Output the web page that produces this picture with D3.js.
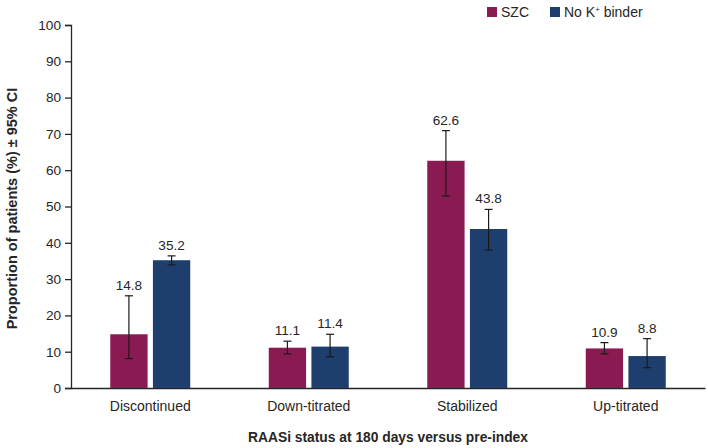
<!DOCTYPE html>
<html>
<head>
<meta charset="utf-8">
<script src="https://cdn.jsdelivr.net/npm/d3@7"></script>
<style>
  html, body { margin: 0; padding: 0; background: #fff; }
  text { font-family: "Liberation Sans", Arial, sans-serif; fill: #262626; }
</style>
</head>
<body>
<svg id="chart" width="708" height="448"></svg>
<script>
const categories = ["Discontinued", "Down-titrated", "Stabilized", "Up-titrated"];
const seriesNames = ["SZC", "No K\u207A binder"];
const szcValues = [14.8, 11.1, 62.6, 10.9];
const szcLower = [8.1, 9.4, 52.9, 9.4];
const szcUpper = [25.4, 12.9, 70.9, 12.5];
const noBinderValues = [35.2, 11.4, 43.8, 8.8];
const noBinderLower = [33.9, 8.6, 38.0, 5.6];
const noBinderUpper = [36.4, 14.8, 49.2, 13.6];
const yTicks = [0, 10, 20, 30, 40, 50, 60, 70, 80, 90, 100];
const colors = ["#8A1B52", "#1E3F6D"];

(function () {
const svg = d3.select("#chart");
const mLeft = 71, mRight = 705, mTop = 25, mBottom = 388;
const fs = "13.6px";

const x = d3.scaleBand().domain(categories).range([mLeft, mRight]).padding(0);
const y = d3.scaleLinear().domain([0, 100]).range([mBottom, mTop]);
const xs = d3.scaleBand().domain([0, 1]).range([-40, 40]).paddingInner(0.125);

// y axis
const yAxis = svg.append("g").attr("transform", `translate(${mLeft},0)`)
  .call(d3.axisLeft(y).tickValues(yTicks).tickSize(6).tickPadding(4));
yAxis.select(".domain").attr("stroke", "#262626").attr("stroke-width", 1.3);
yAxis.selectAll(".tick line").attr("stroke", "#262626").attr("stroke-width", 1.3);
yAxis.selectAll(".tick text").style("font-size", fs).style("fill", "#262626")
  .style("font-family", "Liberation Sans, Arial, sans-serif");

// x axis
const xAxis = svg.append("g").attr("transform", `translate(0,${mBottom})`)
  .call(d3.axisBottom(x).tickSize(0).tickPadding(13));
xAxis.select(".domain").attr("stroke", "#262626").attr("stroke-width", 1.3);
xAxis.selectAll(".tick text").style("font-size", "14px").style("fill", "#262626")
  .style("font-family", "Liberation Sans, Arial, sans-serif");

const series = [
  { v: szcValues, lo: szcLower, hi: szcUpper },
  { v: noBinderValues, lo: noBinderLower, hi: noBinderUpper }
];

series.forEach((s, si) => {
  const g = svg.append("g");
  categories.forEach((c, ci) => {
    const cx = x(c) + x.bandwidth() / 2;
    const bx = cx + xs(si);
    const bw = xs.bandwidth();
    g.append("rect").attr("x", bx).attr("y", y(s.v[ci]))
      .attr("width", bw).attr("height", y(0) - y(s.v[ci]))
      .attr("fill", colors[si]);
    const mx = bx + bw / 2;
    const eg = g.append("g").attr("stroke", "#1a1a1a").attr("stroke-width", 1.2);
    eg.append("line").attr("x1", mx).attr("x2", mx).attr("y1", y(s.lo[ci])).attr("y2", y(s.hi[ci]));
    eg.append("line").attr("x1", mx - 4).attr("x2", mx + 4).attr("y1", y(s.lo[ci])).attr("y2", y(s.lo[ci]));
    eg.append("line").attr("x1", mx - 4).attr("x2", mx + 4).attr("y1", y(s.hi[ci])).attr("y2", y(s.hi[ci]));
    g.append("text").attr("x", mx).attr("y", y(s.hi[ci]) - 6)
      .attr("text-anchor", "middle").style("font-size", fs)
      .text(s.v[ci].toFixed(1));
  });
});

// axis titles
svg.append("text")
  .attr("transform", `translate(17,${(mTop + mBottom) / 2 + 2}) rotate(-90)`)
  .attr("text-anchor", "middle").style("font-size", "14.5px").style("font-weight", "bold")
  .text("Proportion of patients (%) \u00B1 95% CI");
svg.append("text").attr("x", 388).attr("y", 442)
  .attr("text-anchor", "middle").style("font-size", "13.8px").style("font-weight", "bold")
  .text("RAASi status at 180 days versus pre-index");

// legend
const legendX = [487, 550];
seriesNames.forEach((n, i) => {
  svg.append("rect").attr("x", legendX[i]).attr("y", 7).attr("width", 10).attr("height", 10).attr("fill", colors[i]);
  const t = svg.append("text").attr("x", legendX[i] + 14).attr("y", 17).style("font-size", "14px");
  if (i === 0) t.text(n);
  else {
    t.append("tspan").text("No K");
    t.append("tspan").attr("dy", -5).style("font-size", "8px").text("+");
    t.append("tspan").attr("dy", 5).text(" binder");
  }
});
})();
</script>
</body>
</html>
